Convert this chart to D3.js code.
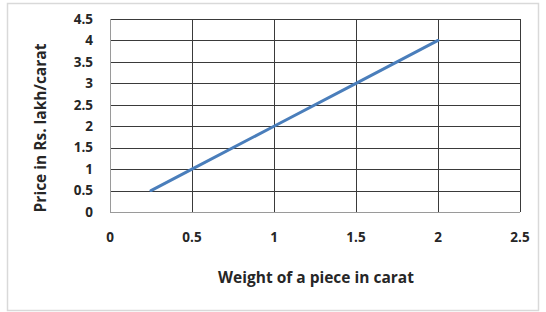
<!DOCTYPE html>
<html><head><meta charset="utf-8">
<script src="https://cdn.jsdelivr.net/npm/d3@7"></script>
<style>body{margin:0;background:#fff}svg{display:block}text{font-family:"Open Sans",sans-serif;font-weight:700;fill:#262626}</style>
</head><body>
<script>
const weights = [0.25, 0.5, 1, 1.5, 2];
const prices = [0.5, 1, 2, 3, 4];
const xTicks = [0, 0.5, 1, 1.5, 2, 2.5];
const yTicks = [0, 0.5, 1, 1.5, 2, 2.5, 3, 3.5, 4, 4.5];
const xTitle = "Weight of a piece in carat";
const yTitle = "Price in Rs. lakh/carat";

const W = 546, H = 312;
const svg = d3.select("body").append("svg").attr("width", W).attr("height", H);
svg.append("rect").attr("x", 7.5).attr("y", 3.5).attr("width", 531).attr("height", 307)
  .attr("fill", "#fff").attr("stroke", "#d9d9d9").attr("stroke-width", 1.5);

const x = d3.scaleLinear().domain([0, 2.5]).range([110, 520]);
const y = d3.scaleLinear().domain([0, 4.5]).range([212, 19]);

svg.append("g").selectAll("line").data(yTicks.filter(d => d > 0)).join("line")
  .attr("x1", x(0)).attr("x2", x(2.5))
  .attr("y1", d => Math.round(y(d)) + 0.5).attr("y2", d => Math.round(y(d)) + 0.5)
  .attr("stroke", "#3a3a3a").attr("stroke-width", 1);
svg.append("g").selectAll("line").data(xTicks.filter(d => d > 0)).join("line")
  .attr("y1", y(0)).attr("y2", y(4.5))
  .attr("x1", d => Math.round(x(d)) + 0.5).attr("x2", d => Math.round(x(d)) + 0.5)
  .attr("stroke", "#3a3a3a").attr("stroke-width", 1);
svg.append("line").attr("x1", x(0) + 0.5).attr("x2", x(0) + 0.5).attr("y1", y(0)).attr("y2", y(4.5))
  .attr("stroke", "#9a9a9a");
svg.append("line").attr("x1", x(0)).attr("x2", x(2.5)).attr("y1", Math.round(y(0)) + 0.5).attr("y2", Math.round(y(0)) + 0.5)
  .attr("stroke", "#9a9a9a");

svg.append("g").selectAll("text").data(yTicks).join("text")
  .attr("x", 93).attr("y", d => y(d)).attr("dy", "0.35em").attr("text-anchor", "end")
  .attr("font-size", 13.5).text(d => d);
svg.append("g").selectAll("text").data(xTicks).join("text")
  .attr("x", d => x(d)).attr("y", 237).attr("dy", "0.35em").attr("text-anchor", "middle")
  .attr("font-size", 13.5).text(d => d);

const line = d3.line().x((d, i) => x(weights[i])).y(d => y(d));
svg.append("path").datum(prices).attr("d", line).attr("fill", "none")
  .attr("stroke", "#4a7ebb").attr("stroke-width", 3).attr("stroke-linecap", "round");

svg.append("text").attr("x", 316).attr("y", 278).attr("dy", "0.35em").attr("text-anchor", "middle")
  .attr("font-size", 15.5).text(xTitle);
svg.append("text").attr("transform", "translate(41,128) rotate(-90)").attr("dy", "0.35em")
  .attr("text-anchor", "middle").attr("font-size", 15.5).text(yTitle);
</script>
</body></html>
